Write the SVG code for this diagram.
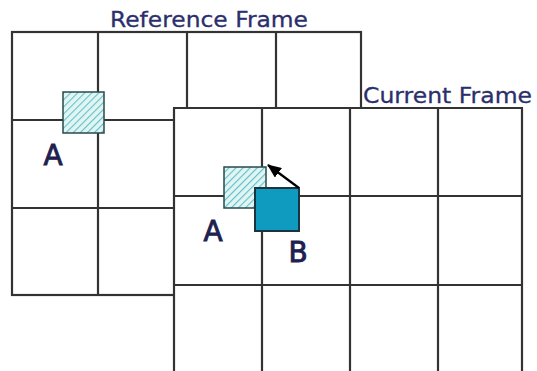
<svg xmlns="http://www.w3.org/2000/svg" width="537" height="371" viewBox="0 0 537 371">
  <style>
    .grid { stroke: #333333; stroke-width: 2.2; fill: none; }
    .title { font-family: "DejaVu Sans", Verdana, sans-serif; font-size: 22px; fill: #2b2f6c; stroke: #2b2f6c; stroke-width: 0.3; }
    .lbl { font-family: "DejaVu Sans", Verdana, sans-serif; font-size: 28px; fill: #1e2150; stroke: #1e2150; stroke-width: 0.9; }
    .hatch { fill: url(#hatch); stroke: #2a4a4a; stroke-width: 1.5; }
    .blue { fill: #0f9bbf; stroke: #1c3440; stroke-width: 2; }
  </style>
  <defs>
    <pattern id="hatch" width="5" height="5" patternUnits="userSpaceOnUse" patternTransform="rotate(45)">
      <rect width="5" height="5" fill="#e2f5f4"/>
      <line x1="0" y1="0" x2="0" y2="5" stroke="#5fc2c8" stroke-width="2.2"/>
    </pattern>
    <marker id="arr" markerWidth="14" markerHeight="12" refX="13" refY="6" orient="auto" markerUnits="userSpaceOnUse" viewBox="0 0 14 12">
      <path d="M0,0 L14,6 L0,12 z" fill="#000"/>
    </marker>
  </defs>
  <rect width="537" height="371" fill="#ffffff"/>

  <g id="reference-frame">
    <text class="title" x="110" y="27" textLength="198" lengthAdjust="spacingAndGlyphs">Reference Frame</text>
    <rect class="grid" x="12" y="32" width="349" height="263"/>
    <line class="grid" x1="98" y1="32" x2="98" y2="295"/>
    <line class="grid" x1="187" y1="32" x2="187" y2="108"/>
    <line class="grid" x1="276" y1="32" x2="276" y2="108"/>
    <line class="grid" x1="12" y1="120" x2="174" y2="120"/>
    <line class="grid" x1="12" y1="208" x2="174" y2="208"/>
  </g>

  <g id="block-a-ref">
    <rect class="hatch" x="63" y="92" width="41" height="41"/>
    <text class="lbl" x="53" y="165" text-anchor="middle">A</text>
  </g>

  <g id="current-frame">
    <rect x="174" y="108" width="348" height="270" fill="#ffffff"/>
    <text class="title" x="363" y="103" textLength="169" lengthAdjust="spacingAndGlyphs">Current Frame</text>
    <line class="grid" x1="174" y1="372" x2="174" y2="108"/>
    <line class="grid" x1="173" y1="108" x2="523" y2="108"/>
    <line class="grid" x1="522" y1="108" x2="522" y2="372"/>
    <line class="grid" x1="262" y1="108" x2="262" y2="372"/>
    <line class="grid" x1="350" y1="108" x2="350" y2="372"/>
    <line class="grid" x1="438" y1="108" x2="438" y2="372"/>
    <line class="grid" x1="174" y1="196" x2="522" y2="196"/>
    <line class="grid" x1="174" y1="285" x2="522" y2="285"/>
  </g>

  <g id="block-a-cur">
    <rect class="hatch" x="224" y="167" width="42" height="41"/>
    <text class="lbl" x="213" y="241" text-anchor="middle">A</text>
  </g>

  <g id="block-b">
    <rect class="blue" x="255" y="188" width="44" height="43"/>
    <text class="lbl" x="298" y="262" text-anchor="middle">B</text>
  </g>

  <g id="connectors">
    <line x1="299" y1="188" x2="268" y2="165" stroke="#000" stroke-width="2.2" marker-end="url(#arr)"/>
  </g>
</svg>
